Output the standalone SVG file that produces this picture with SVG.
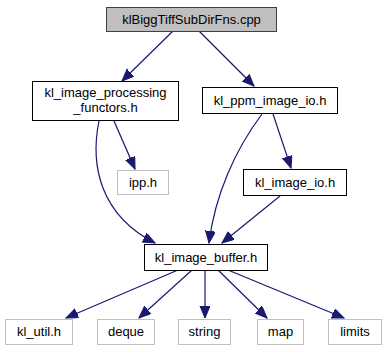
<svg xmlns="http://www.w3.org/2000/svg" width="387" height="351" viewBox="0 0 387 351">
  <style>
    .node rect { fill: #ffffff; stroke: #000000; stroke-width: 1; }
    .node.root rect { fill: #bfbfbf; stroke: #404040; }
    .node.ext rect { stroke: #bfbfbf; }
    .node text { font-family: "Liberation Sans", Arial, sans-serif; font-size: 13px; fill: #000000; text-anchor: middle; }
    .edge { fill: none; stroke: #191970; stroke-width: 1.2; marker-end: url(#arrow); }
  </style>
  <defs>
    <marker id="arrow" markerUnits="userSpaceOnUse" markerWidth="14" markerHeight="12" refX="12" refY="5" orient="auto">
      <path d="M0,0 L12,5 L0,10 Z" fill="#191970" stroke="#191970"/>
    </marker>
  </defs>
  <rect width="387" height="351" fill="#ffffff"/>

  <g id="edges">
    <path class="edge" d="M173,31 L122,81"/>
    <path class="edge" d="M199,31 L254,86"/>
    <path class="edge" d="M99,121 C90,165 100,215 155,243"/>
    <path class="edge" d="M114,121 L135,169"/>
    <path class="edge" d="M262,114 C235,150 215,195 209,243"/>
    <path class="edge" d="M273,114 L291,168"/>
    <path class="edge" d="M280,196 L222,243"/>
    <path class="edge" d="M178,270 L66,318"/>
    <path class="edge" d="M192,270 L139,318"/>
    <path class="edge" d="M205,270 L205,318"/>
    <path class="edge" d="M218,270 L267,318"/>
    <path class="edge" d="M228,270 L344,318"/>
  </g>

  <g id="node_root" class="node root">
    <rect x="106.5" y="7.5" width="170" height="24"/>
    <text x="191.5" y="24">klBiggTiffSubDirFns.cpp</text>
  </g>
  <g id="node_functors" class="node">
    <rect x="32.5" y="81.5" width="146" height="39"/>
    <text x="105.5" y="97">kl_image_processing</text>
    <text x="105.5" y="112">_functors.h</text>
  </g>
  <g id="node_ipp" class="node ext">
    <rect x="117.5" y="170.5" width="51" height="24"/>
    <text x="143" y="187">ipp.h</text>
  </g>
  <g id="node_ppm" class="node">
    <rect x="202.5" y="87.5" width="135" height="26"/>
    <text x="270" y="105">kl_ppm_image_io.h</text>
  </g>
  <g id="node_image_io" class="node">
    <rect x="243.5" y="169.5" width="103" height="26"/>
    <text x="295" y="187">kl_image_io.h</text>
  </g>
  <g id="node_buffer" class="node">
    <rect x="144.5" y="244.5" width="123" height="26"/>
    <text x="206" y="262">kl_image_buffer.h</text>
  </g>
  <g id="node_util" class="node ext">
    <rect x="5.5" y="319.5" width="67" height="25"/>
    <text x="39" y="336">kl_util.h</text>
  </g>
  <g id="node_deque" class="node ext">
    <rect x="97.5" y="319.5" width="57" height="25"/>
    <text x="126" y="336">deque</text>
  </g>
  <g id="node_string" class="node ext">
    <rect x="178.5" y="319.5" width="52" height="25"/>
    <text x="204.5" y="336">string</text>
  </g>
  <g id="node_map" class="node ext">
    <rect x="257.5" y="319.5" width="46" height="25"/>
    <text x="280.5" y="336">map</text>
  </g>
  <g id="node_limits" class="node ext">
    <rect x="328.5" y="319.5" width="53" height="25"/>
    <text x="355" y="336">limits</text>
  </g>
</svg>
